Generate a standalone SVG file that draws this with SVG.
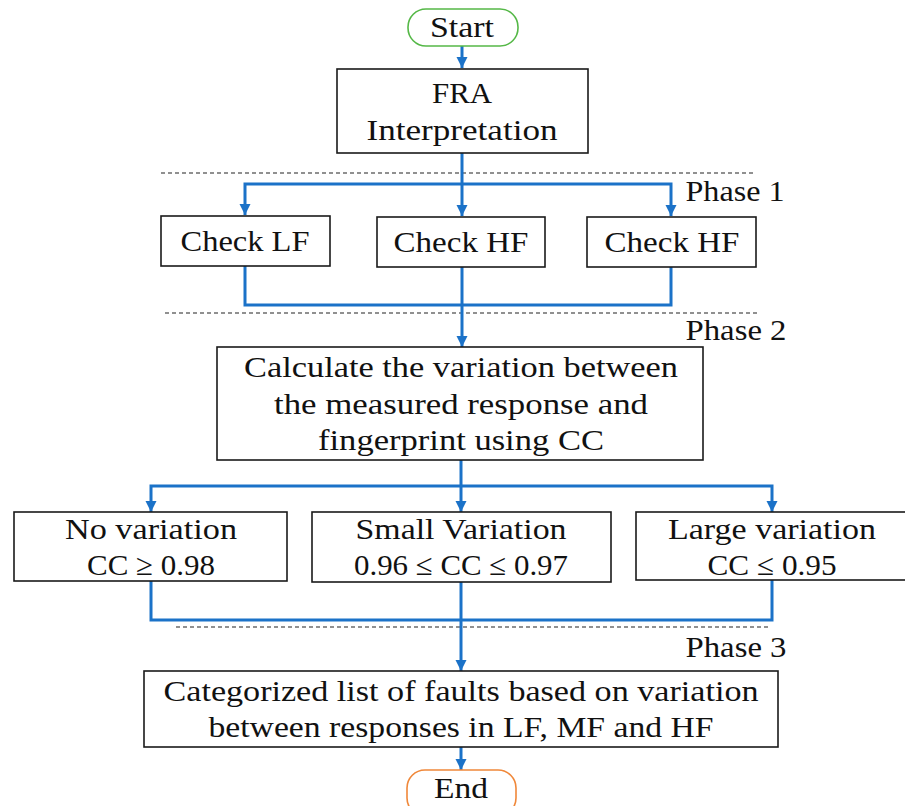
<svg xmlns="http://www.w3.org/2000/svg" width="905" height="806" viewBox="0 0 905 806">
<style>
.box{fill:#fff;stroke:#1a1a1a;stroke-width:1.6}
.t{font-family:"Liberation Serif","Times New Roman",serif;font-size:30px;fill:#111;text-anchor:middle}
.c{fill:none;stroke:#1b72c8;stroke-width:3}
.d{fill:none;stroke:#222;stroke-width:1.1;stroke-dasharray:4 3}
</style>
<defs>
<marker id="ah" markerUnits="userSpaceOnUse" markerWidth="12" markerHeight="12" viewBox="0 0 12 12" refX="11" refY="6" orient="auto">
<path d="M0,0.5 L11,6 L0,11.5 Z" fill="#1b72c8"/>
</marker>
</defs>
<rect width="905" height="806" fill="#fff"/>
<g id="dividers">
<line class="d" x1="161" y1="173" x2="756" y2="173"/>
<line class="d" x1="165" y1="313" x2="759" y2="313"/>
<line class="d" x1="176" y1="627" x2="770" y2="627"/>
<text class="t" x="735" y="201" textLength="99" lengthAdjust="spacingAndGlyphs">Phase 1</text>
<text class="t" x="736" y="340" textLength="101" lengthAdjust="spacingAndGlyphs">Phase 2</text>
<text class="t" x="736" y="657" textLength="101" lengthAdjust="spacingAndGlyphs">Phase 3</text>
</g>
<g id="connectors">
<path class="c" d="M462,46 V68" marker-end="url(#ah)"/>
<path class="c" d="M462,153 V216" marker-end="url(#ah)"/>
<path class="c" d="M462,184 H245 V215" marker-end="url(#ah)"/>
<path class="c" d="M462,184 H671 V216" marker-end="url(#ah)"/>
<path class="c" d="M245,266 V305 H671 V267"/>
<path class="c" d="M462,267 V347" marker-end="url(#ah)"/>
<path class="c" d="M461,460 V512" marker-end="url(#ah)"/>
<path class="c" d="M461,486 H151 V512" marker-end="url(#ah)"/>
<path class="c" d="M461,486 H772 V512" marker-end="url(#ah)"/>
<path class="c" d="M151,581 V620 H772 V580"/>
<path class="c" d="M461,582 V671" marker-end="url(#ah)"/>
<path class="c" d="M461,747 V770" marker-end="url(#ah)"/>
</g>
<g id="start">
<rect x="408" y="9" width="110" height="37" rx="18" fill="#fff" stroke="#55b847" stroke-width="1.6"/>
<text class="t" x="462" y="37" textLength="64" lengthAdjust="spacingAndGlyphs">Start</text>
</g>
<g id="fra">
<rect class="box" x="337" y="69" width="251" height="84"/>
<text class="t" x="462" y="103" textLength="60" lengthAdjust="spacingAndGlyphs">FRA</text>
<text class="t" x="462" y="140" textLength="191" lengthAdjust="spacingAndGlyphs">Interpretation</text>
</g>
<g id="checkLF">
<rect class="box" x="161" y="216" width="169" height="50"/>
<text class="t" x="245" y="251" textLength="129" lengthAdjust="spacingAndGlyphs">Check LF</text>
</g>
<g id="checkHF1">
<rect class="box" x="377" y="217" width="168" height="50"/>
<text class="t" x="461" y="252" textLength="135" lengthAdjust="spacingAndGlyphs">Check HF</text>
</g>
<g id="checkHF2">
<rect class="box" x="587" y="217" width="169" height="50"/>
<text class="t" x="672" y="252" textLength="135" lengthAdjust="spacingAndGlyphs">Check HF</text>
</g>
<g id="calc">
<rect class="box" x="217" y="347" width="486" height="113"/>
<text class="t" x="461" y="377" textLength="434" lengthAdjust="spacingAndGlyphs">Calculate the variation between</text>
<text class="t" x="461" y="414" textLength="374" lengthAdjust="spacingAndGlyphs">the measured response and</text>
<text class="t" x="461" y="450" textLength="286" lengthAdjust="spacingAndGlyphs">fingerprint using CC</text>
</g>
<g id="noVar">
<rect class="box" x="14" y="512" width="273" height="69"/>
<text class="t" x="151" y="539" textLength="172" lengthAdjust="spacingAndGlyphs">No variation</text>
<text class="t" x="151" y="575" textLength="128" lengthAdjust="spacingAndGlyphs">CC ≥ 0.98</text>
</g>
<g id="smallVar">
<rect class="box" x="312" y="512" width="299" height="70"/>
<text class="t" x="461" y="539" textLength="211" lengthAdjust="spacingAndGlyphs">Small Variation</text>
<text class="t" x="461" y="575" textLength="214" lengthAdjust="spacingAndGlyphs">0.96 ≤ CC ≤ 0.97</text>
</g>
<g id="largeVar">
<rect class="box" x="636" y="512" width="275" height="68"/>
<text class="t" x="772" y="539" textLength="208" lengthAdjust="spacingAndGlyphs">Large variation</text>
<text class="t" x="772" y="575" textLength="129" lengthAdjust="spacingAndGlyphs">CC ≤ 0.95</text>
</g>
<g id="categorized">
<rect class="box" x="144" y="671" width="634" height="76"/>
<text class="t" x="461" y="701" textLength="595" lengthAdjust="spacingAndGlyphs">Categorized list of faults based on variation</text>
<text class="t" x="461" y="737" textLength="505" lengthAdjust="spacingAndGlyphs">between responses in LF, MF and HF</text>
</g>
<g id="end">
<rect x="407" y="770" width="109" height="46" rx="18" fill="#fff" stroke="#f0883a" stroke-width="1.6"/>
<text class="t" x="461" y="798" textLength="54" lengthAdjust="spacingAndGlyphs">End</text>
</g>
</svg>
